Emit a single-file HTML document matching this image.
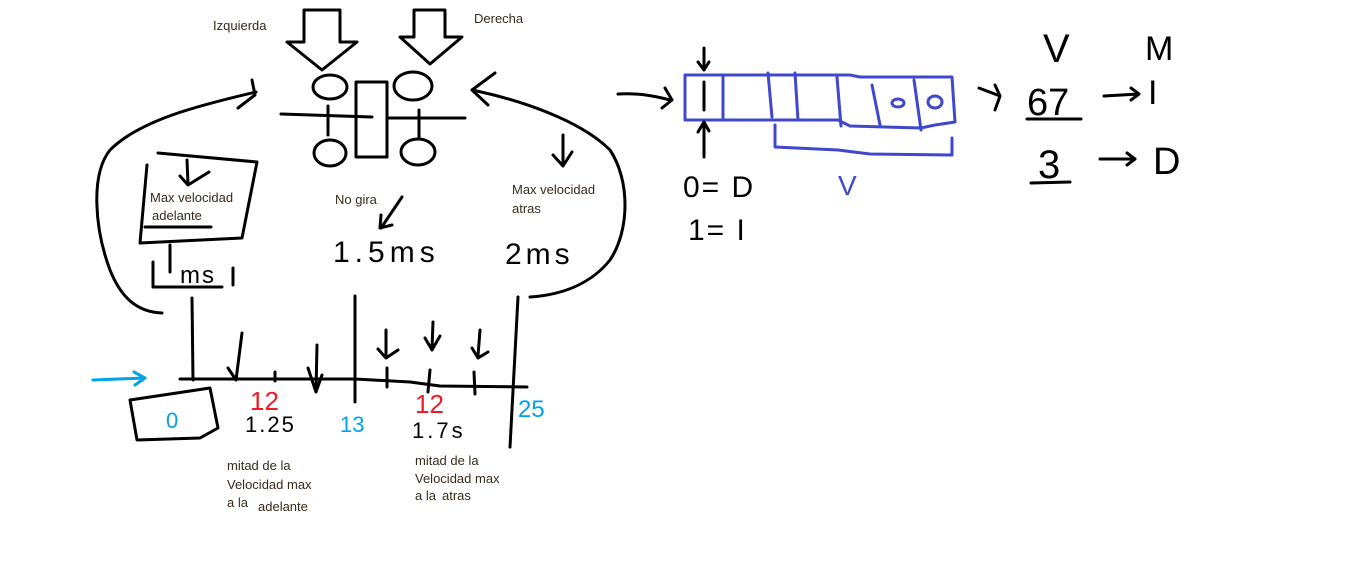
<!DOCTYPE html>
<html><head><meta charset="utf-8"><style>
html,body{margin:0;padding:0;background:#fff;}
svg{display:block;}
.k{fill:none;stroke:#000;stroke-width:3;stroke-linecap:round;stroke-linejoin:round;}
.b{fill:none;stroke:#3f48cc;stroke-width:3;stroke-linecap:round;stroke-linejoin:round;}
.c{fill:none;stroke:#00a2e8;stroke-width:3;stroke-linecap:round;stroke-linejoin:round;}
.t{font-family:"Liberation Sans",sans-serif;font-size:13px;fill:#3a2a1a;}
.h{font-family:"Liberation Sans",sans-serif;fill:#000;}
</style></head><body>
<svg width="1358" height="572" viewBox="0 0 1358 572" xmlns="http://www.w3.org/2000/svg">
<rect width="1358" height="572" fill="#fff"/>
<path class="k" d="M304 10 L340 10 L340 42 L357 42 L322 70 L287 42 L304 42 Z"/>
<path class="k" d="M414 10 L445 10 L445 37 L462 37 L430 64 L400 37 L414 37 Z"/>
<text class="t" x="213" y="30">Izquierda</text>
<text class="t" x="474" y="23">Derecha</text>
<ellipse class="k" cx="330" cy="87" rx="17" ry="12"/>
<ellipse class="k" cx="413" cy="86" rx="19" ry="14"/>
<ellipse class="k" cx="330" cy="153" rx="16" ry="13"/>
<ellipse class="k" cx="418" cy="152" rx="17" ry="13"/>
<rect class="k" x="356" y="82" width="31" height="75"/>
<path class="k" d="M281 114 L372 117 M388 118 L465 118 M328 106 L328 135 M419 110 L419 138"/>
<path class="k" d="M252 80 L255 95 L238 108 M256 92 C200 105 140 120 110 150 C90 175 95 230 110 270 C120 295 135 312 162 313"/>
<path class="k" d="M495 73 L472 90 L488 105 M472 90 C520 100 580 120 610 150 C630 180 630 230 610 260 C590 285 560 295 530 297"/>
<path class="k" d="M158 153 L257 162 L242 238 L140 243 L147 165"/>
<path class="k" d="M187 160 L188 184 M180 176 L188 185 L209 172"/>
<text class="t" x="150" y="202">Max velocidad</text>
<text class="t" x="152" y="220">adelante</text>
<path class="k" d="M145 227 L211 227 M170 245 L170 272 M153 262 L153 287 L222 287 M233 268 L233 285"/>
<text class="h" x="180" y="283" font-size="24" letter-spacing="2">ms</text>
<text class="t" x="335" y="204">No gira</text>
<path class="k" d="M402 197 L381 228 M381 215 L380 228 L392 225"/>
<text class="h" x="333" y="262" font-size="30" letter-spacing="5">1.5ms</text>
<text class="h" x="505" y="264" font-size="30" letter-spacing="4">2ms</text>
<path class="k" d="M563 135 L563 165 M553 155 L563 166 L572 152"/>
<text class="t" x="512" y="194">Max velocidad</text>
<text class="t" x="512" y="213">atras</text>
<path class="k" d="M180 379 L355 379 L410 382 L440 386 L527 387"/>
<path class="k" d="M192 298 L193 380 M355 296 L355 402 M518 297 L510 447"/>
<path class="k" d="M275 372 L275 381 M387 368 L387 387 M430 370 L428 392 M474 372 L475 394"/>
<path class="k" d="M242 333 L236 380 M228 368 L236 380 M317 345 L316 392 M308 368 L316 392 L322 375"/>
<path class="k" d="M386 330 L386 356 M378 349 L386 358 L398 350 M433 322 L432 348 M425 338 L432 350 L440 336 M480 330 L478 356 M472 348 L478 358 L488 352"/>
<path class="c" d="M93 380 L145 378 M134 372 L145 378 L135 385"/>
<path class="k" d="M130 400 L210 388 L218 428 L200 438 L137 440 Z"/>
<text class="h" x="166" y="428" font-size="22" style="fill:#00a2e8">0</text>
<text class="h" x="250" y="410" font-size="26" style="fill:#ed1c24">12</text>
<text class="h" x="245" y="432" font-size="22" letter-spacing="2">1.25</text>
<text class="h" x="340" y="432" font-size="22" style="fill:#00a2e8">13</text>
<text class="h" x="415" y="413" font-size="26" style="fill:#ed1c24">12</text>
<text class="h" x="412" y="438" font-size="22" letter-spacing="3">1.7s</text>
<text class="h" x="518" y="417" font-size="24" style="fill:#00a2e8">25</text>
<text class="t" x="227" y="470">mitad de la</text>
<text class="t" x="227" y="489">Velocidad max</text>
<text class="t" x="227" y="507">a la</text>
<text class="t" x="258" y="511">adelante</text>
<text class="t" x="415" y="465">mitad de la</text>
<text class="t" x="415" y="483">Velocidad max</text>
<text class="t" x="415" y="500">a la</text>
<text class="t" x="442" y="500">atras</text>
<path class="b" d="M685 75 L850 75 L860 77 L952 77 L955 122 L935 125 L921 128 L850 126 L838 120 L685 120 Z"/>
<path class="b" d="M723 75 L723 120 M768 73 L772 117 M795 73 L798 120 M837 77 L841 126 M872 85 L880 125 M914 80 L921 130"/>
<path class="b" d="M775 125 L775 147 L838 150 L870 154 L952 155 L952 138"/>
<ellipse class="b" cx="898" cy="103" rx="6" ry="4"/>
<ellipse class="b" cx="935" cy="102" rx="7" ry="6"/>
<text class="h" x="838" y="195" font-size="28" style="fill:#3f48cc">V</text>
<path class="k" d="M704 82 L704 110 M704 48 L704 70 M698 62 L704 70 L709 62 M704 157 L704 124 M698 132 L704 122 L709 131"/>
<path class="k" d="M618 94 C640 93 655 96 670 100 M665 88 L672 100 L662 108"/>
<text class="h" x="683" y="197" font-size="30" letter-spacing="2">0= D</text>
<text class="h" x="688" y="240" font-size="30" letter-spacing="2">1= I</text>
<path class="k" d="M979 88 L1000 96 M995 85 L1000 96 L995 110"/>
<text class="h" x="1027" y="115" font-size="38">67</text>
<path class="k" d="M1027 119 L1081 119 M1031 183 L1070 182"/>
<text class="h" x="1038" y="178" font-size="40">3</text>
<text class="h" x="1043" y="62" font-size="40">V</text>
<text class="h" x="1145" y="60" font-size="34">M</text>
<path class="k" d="M1104 96 L1139 94 M1131 88 L1139 94 L1131 100 M1100 159 L1135 159 M1127 153 L1135 159 L1127 165"/>
<text class="h" x="1148" y="104" font-size="34">I</text>
<text class="h" x="1153" y="174" font-size="38">D</text>
</svg>
</body></html>
